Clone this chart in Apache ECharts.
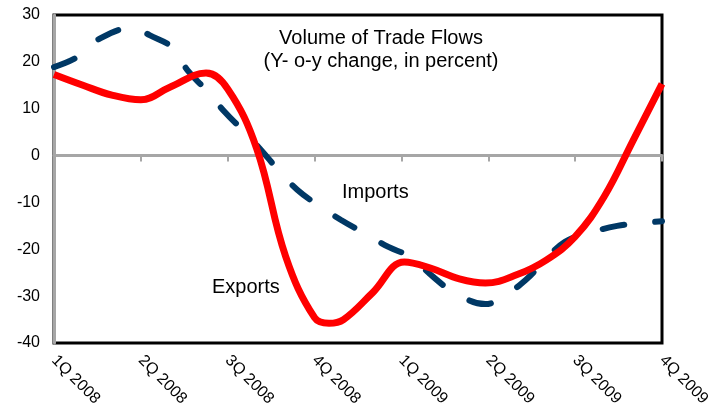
<!DOCTYPE html>
<html>
<head>
<meta charset="utf-8">
<script src="https://cdn.jsdelivr.net/npm/echarts@6/dist/echarts.min.js"></script>
<style>
  html, body { margin: 0; padding: 0; background: #fff; }
  #chart { width: 715px; height: 412px; }
</style>
</head>
<body>
<div id="chart"></div>
<script>
// x position in months after 1Q 2008, one quarter label every 3 months
var quarterLabels = ['1Q 2008', '2Q 2008', '3Q 2008', '4Q 2008', '1Q 2009', '2Q 2009', '3Q 2009', '4Q 2009'];

var exportsMonths = [0, 1, 2, 3, 4, 5.25, 6, 7, 8, 9, 9.5, 10, 11, 12.1, 13, 14, 14.9, 16, 17, 18, 19, 20, 21];
var exportsValues = [17.3, 15.0, 12.9, 11.9, 14.6, 17.6, 14.2, 1.5, -21.5, -34.6, -35.8, -35.0, -29.3, -22.7,
                     -24.0, -26.3, -27.2, -25.4, -22.3, -17.3, -8.8, 3.2, 15.3];

var importsMonths = [0, 0.8, 1.5, 2.75, 3.3, 4.1, 4.6, 5.25, 5.9, 6.5, 7.15, 7.75, 8.4, 9.1,
                     9.9, 10.7, 11.55, 12.3, 13.1, 13.8, 14.9, 15.5, 16.3, 16.9, 17.65, 18.5, 19.45, 20.35, 21];
var importsValues = [18.9, 21.0, 24.7, 27.3, 25.7, 23.0, 18.3, 14.0, 9.3, 5.5, 1.2, -3.1, -7.3, -10.5,
                     -13.7, -16.5, -19.5, -21.6, -25.9, -29.1, -31.7, -30.2, -26.5, -22.7, -18.4, -16.5, -15.0, -14.4, -14.0];

var yMin = -40, yMax = 30, yStep = 10;

function pairs(xs, ys) {
    var out = [];
    for (var i = 0; i < xs.length; i++) out.push([xs[i], ys[i]]);
    return out;
}

var myChart = echarts.init(document.getElementById('chart'));
var font = 'Liberation Sans, Arial, sans-serif';

var option = {
    animation: false,
    backgroundColor: '#fff',
    title: {
        text: 'Volume of Trade Flows\n(Y- o-y change, in percent)',
        left: 376,
        top: 22,
        textAlign: 'center',
        textStyle: {
            fontFamily: font,
            fontSize: 20,
            fontWeight: 'normal',
            color: '#000',
            lineHeight: 23,
            align: 'center'
        }
    },
    grid: {
        left: 54,
        right: 53,
        top: 15,
        bottom: 69,
        show: true,
        borderColor: '#000',
        borderWidth: 3,
        z: 0
    },
    xAxis: [{
        type: 'value',
        min: 0,
        max: 21,
        interval: 3,
        axisLine: { onZero: true, lineStyle: { color: '#a6a6a6', width: 3 } },
        axisTick: { show: true, length: 6, lineStyle: { color: '#a6a6a6', width: 2 } },
        axisLabel: { show: false },
        splitLine: { show: false }
    }, {
        type: 'value',
        min: 0,
        max: 21,
        interval: 3,
        position: 'bottom',
        axisLine: { show: false, onZero: false },
        axisTick: { show: false },
        axisLabel: {
            rotate: -45,
            margin: 15,
            fontFamily: font,
            fontSize: 16,
            color: '#000',
            showMinLabel: true,
            showMaxLabel: true,
            formatter: function (v) { return quarterLabels[Math.round(v / 3)]; }
        },
        splitLine: { show: false }
    }],
    yAxis: {
        type: 'value',
        min: yMin,
        max: yMax,
        interval: yStep,
        axisLine: { show: true, lineStyle: { color: '#a6a6a6', width: 3 } },
        axisTick: { show: false },
        splitLine: { show: false },
        axisLabel: { margin: 14, fontFamily: font, fontSize: 16, color: '#000' }
    },
    graphic: [
        { type: 'text', left: 342, top: 182, style: { text: 'Imports', fontFamily: font, fontSize: 20, fill: '#000' } },
        { type: 'text', left: 212, top: 277, style: { text: 'Exports', fontFamily: font, fontSize: 20, fill: '#000' } }
    ],
    series: [{
        name: 'Imports',
        type: 'line',
        data: pairs(importsMonths, importsValues),
        smooth: 0.4,
        showSymbol: false,
        z: 3,
        lineStyle: { color: '#003865', width: 6, type: [22, 31], cap: 'round' }
    }, {
        name: 'Exports',
        type: 'line',
        data: pairs(exportsMonths, exportsValues),
        smooth: 0.4,
        showSymbol: false,
        z: 4,
        lineStyle: { color: '#ff0000', width: 7 }
    }]
};
myChart.setOption(option);
</script>
</body>
</html>
